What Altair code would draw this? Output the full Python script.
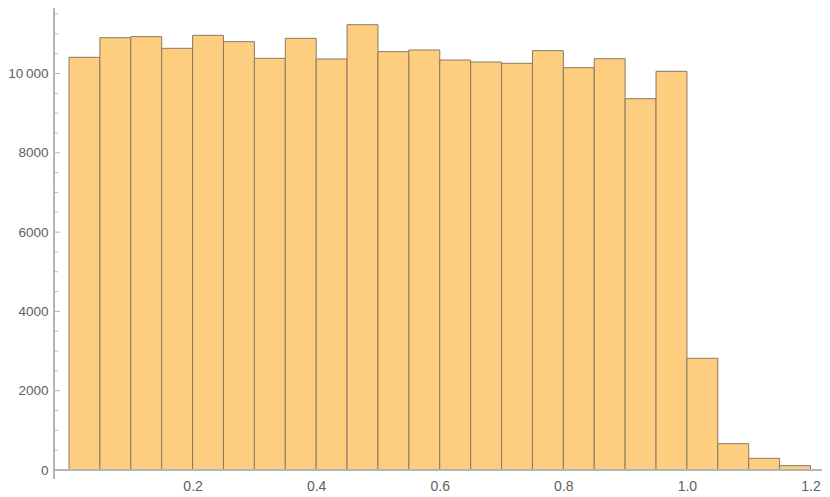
import altair as alt
import pandas as pd

# Histogram bins (width 0.05) and counts
bin_start = [0.00, 0.05, 0.10, 0.15, 0.20, 0.25, 0.30, 0.35, 0.40, 0.45, 0.50, 0.55,
             0.60, 0.65, 0.70, 0.75, 0.80, 0.85, 0.90, 0.95, 1.00, 1.05, 1.10, 1.15]
bin_end = [0.05, 0.10, 0.15, 0.20, 0.25, 0.30, 0.35, 0.40, 0.45, 0.50, 0.55, 0.60,
           0.65, 0.70, 0.75, 0.80, 0.85, 0.90, 0.95, 1.00, 1.05, 1.10, 1.15, 1.20]
counts = [10408, 10903, 10929, 10635, 10962, 10803, 10383, 10887, 10366, 11231, 10551, 10593,
          10340, 10290, 10257, 10576, 10147, 10374, 9365, 10055, 2817, 664, 294, 110]

x_ticks = [0.2, 0.4, 0.6, 0.8, 1.0, 1.2]
y_major = [0, 2000, 4000, 6000, 8000, 10000]
y_minor = [500, 1000, 1500, 2500, 3000, 3500, 4500, 5000, 5500, 6500, 7000, 7500,
           8500, 9000, 9500, 10500, 11000, 11500]

W, H = 768, 462
FONT = "Liberation Sans"
AXIS_GRAY = "#b4b4b4"
LABEL_GRAY = "#606060"

df = pd.DataFrame({"start": bin_start, "end": bin_end, "count": counts})

xscale = alt.Scale(domain=[-0.0243, 1.2186], nice=False, zero=False)
yscale = alt.Scale(domain=[0, 11652], nice=False, zero=False)

yaxis = alt.Axis(values=y_major, title=None, ticks=False, domain=False,
                 grid=False, labelFont=FONT, labelFontSize=13.5, format="d",
                 labelColor=LABEL_GRAY, labelPadding=6,
                 labelExpr="datum.value == 10000 ? '10\u2009000' : datum.label")

bars = alt.Chart(df).mark_rect(
    fill="#FDCE80", stroke="#8a7a60", strokeWidth=1
).encode(
    x=alt.X("start:Q", scale=xscale,
            axis=alt.Axis(values=x_ticks, format=".1f", title=None, ticks=False,
                          domain=False, grid=False, labelFont=FONT, labelFontSize=14,
                          labelColor=LABEL_GRAY, labelPadding=9)),
    x2="end:Q",
    y=alt.Y("count:Q", scale=yscale, axis=yaxis),
    y2=alt.Y2(datum=0),
)

yline = alt.Chart(df).mark_rule(color=AXIS_GRAY, strokeWidth=1).encode(
    x=alt.value(0), y=alt.value(0), y2=alt.value(H + 9)
)
xline = alt.Chart(df).mark_rule(color=AXIS_GRAY, strokeWidth=1).encode(
    x=alt.value(0), x2=alt.value(W), y=alt.value(H)
)

major_df = pd.DataFrame({"v": y_major})
minor_df = pd.DataFrame({"v": y_minor})
major_ticks = alt.Chart(major_df).mark_rule(color=AXIS_GRAY, strokeWidth=1).encode(
    x=alt.value(0), x2=alt.value(6), y=alt.Y("v:Q", scale=yscale, axis=yaxis)
)
minor_ticks = alt.Chart(minor_df).mark_rule(color=AXIS_GRAY, strokeWidth=1).encode(
    x=alt.value(0), x2=alt.value(4), y=alt.Y("v:Q", scale=yscale, axis=yaxis)
)

chart = alt.layer(bars, xline, yline, major_ticks, minor_ticks).properties(
    width=W, height=H,
    autosize=alt.AutoSizeParams(type="none"),
    padding={"left": 46, "top": 0, "right": 0, "bottom": 23},
).configure_view(stroke=None)

chart.save("out.html", embed_options={"renderer": "svg", "actions": False})
